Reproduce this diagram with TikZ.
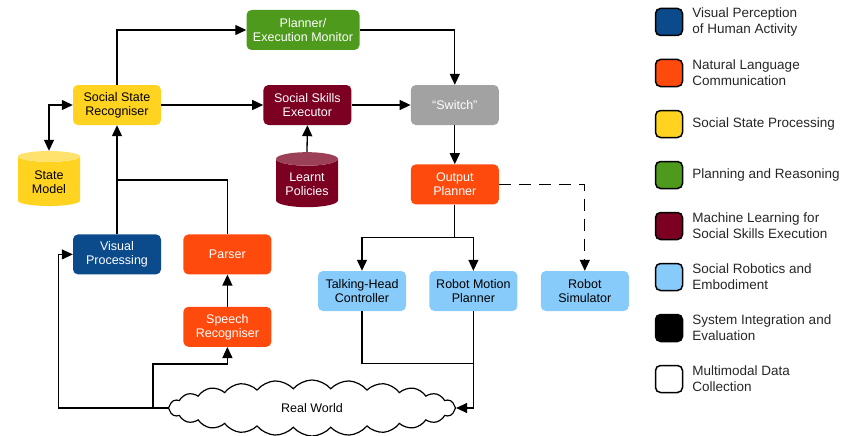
\documentclass[tikz,border=0pt]{standalone}
\usepackage{fontspec}
\setmainfont{Liberation Sans}
\usetikzlibrary{shapes.geometric,shapes.symbols,arrows.meta,positioning}

\definecolor{vpblue}{RGB}{11,74,139}
\definecolor{nlred}{RGB}{255,74,14}
\definecolor{ssyellow}{RGB}{255,211,32}
\definecolor{prgreen}{RGB}{78,154,28}
\definecolor{mlred}{RGB}{123,0,33}
\definecolor{srblue}{RGB}{135,203,250}
\definecolor{swgray}{RGB}{162,162,162}

\begin{document}
\begin{tikzpicture}[x=1pt, y=-1pt, align=center, >={Triangle[length=11pt,width=10pt]}
                   , font=\fontsize{12.5}{14}\selectfont]
    \tikzset{
        box/.style      =   { rectangle
                            , rounded corners=5pt
                            , minimum width=88pt
                            , minimum height=40pt
                            , inner sep=2pt
                            , text=white
        }
        , drum/.style   =   { cylinder
                            , shape border rotate=90
                            , aspect=0.3
                            , minimum width=62pt
                            , minimum height=55pt
                            , cylinder uses custom fill
                            , inner sep=1pt
        }
        , arrow/.style  =   { line width=1.3pt
        }
        , swatch/.style =   { rectangle
                            , rounded corners=5pt
                            , draw=black
                            , line width=1.5pt
                            , minimum size=27pt
        }
        , keytext/.style =  { align=left
                            , inner sep=0pt
                            , text=black!85
                            , font=\fontsize{13.5}{15.7}\selectfont
        }
    }
    \useasboundingbox (0,0) rectangle (854,436);

    \node(ssr)[box, fill=ssyellow, text=black] at (117,105) {Social State\\Recogniser};
    \node(plan)[box, fill=prgreen, minimum width=113pt] at (303,30) {Planner/\\Execution Monitor};
    \node(sse)[box, fill=mlred, right=102pt of ssr] {Social Skills\\Executor};
    \node(switch)[box, fill=swgray, right=59pt of sse] {“Switch”};
    \node(out)[box, fill=nlred, below=39pt of switch] {Output\\Planner};
    \node(sm)[drum, cylinder body fill=ssyellow, cylinder end fill=ssyellow!65!white] at (49,182) {State\\Model};
    \node(lp)[drum, cylinder body fill=mlred, cylinder end fill=mlred!75!white, text=white] at (307,184) {Learnt\\Policies};
    \node(vp)[box, fill=vpblue, below=109pt of ssr] {Visual\\Processing};
    \node(parser)[box, fill=nlred, right=22pt of vp] {Parser};
    \node(sr)[box, fill=nlred, below=32pt of parser] {Speech\\Recogniser};
    \node(thc)[box, fill=srblue, text=black] at (362,291) {Talking-Head\\Controller};
    \node(rmp)[box, fill=srblue, text=black, right=23pt of thc] {Robot Motion\\Planner};
    \node(sim)[box, fill=srblue, text=black, right=23pt of rmp] {Robot\\Simulator};
    \node(world)[cloud, draw, fill=white, line width=1.2pt, cloud puffs=24, cloud puff arc=100
                , cloud ignores aspect, minimum width=287pt, minimum height=56pt] at (312,408) {Real World};
    \coordinate(merge) at (117,180);

    \draw[arrow,->]  (ssr.north) |- (plan.west);
    \draw[arrow,->]  (plan.east) -| (switch.north);
    \draw[arrow,->]  (ssr) -- (sse);
    \draw[arrow,->]  (sse) -- (switch);
    \draw[arrow,->]  (switch) -- (out);
    \draw[arrow,->]  (lp.north) -- (sse.south);
    \draw[arrow,<->] (sm.north) |- (ssr.west);
    \draw[arrow,->]  (vp) -- (ssr);
    \draw[arrow]     (parser.north) |- (merge);
    \draw[arrow,->]  (sr) -- (parser);
    \draw[arrow,->]  (world.west) -| ([xshift=-14pt]vp.west) -- (vp.west);
    \draw[arrow,->]  ([xshift=-15pt]world.west) |- ([yshift=-17pt]sr.south) -- (sr.south);
    \draw[arrow,->]  (out.south) -- ++(0,33) -| (thc.north);
    \draw[arrow,->]  (out.south) -- ++(0,33) -| (rmp.north);
    \draw[arrow,->, dash pattern=on 12pt off 8pt] (out.east) -| (sim.north);
    \draw[arrow]     (thc.south) |- ([yshift=-52pt]rmp.south);
    \draw[arrow,->]  (rmp.south) |- (world.east);

    % legend
    \begin{scope}[node distance=22.5pt]
    \node(key0)[swatch, fill=vpblue] at (669,22) {};
    \node(key1)[swatch, fill=nlred, below=of key0] {};
    \node(key2)[swatch, fill=ssyellow, below=of key1] {};
    \node(key3)[swatch, fill=prgreen, below=of key2] {};
    \node(key4)[swatch, fill=mlred, below=of key3] {};
    \node(key5)[swatch, fill=srblue, below=of key4] {};
    \node(key6)[swatch, fill=black, below=of key5] {};
    \node(key7)[swatch, fill=white, below=of key6] {};
    \node(label0)[keytext, right=9pt of key0] {Visual Perception\\of Human Activity};
    \node(label1)[keytext, right=9pt of key1] {Natural Language\\Communication};
    \node(label2)[keytext, right=9pt of key2] {Social State Processing};
    \node(label3)[keytext, right=9pt of key3] {Planning and Reasoning};
    \node(label4)[keytext, right=9pt of key4] {Machine Learning for\\Social Skills Execution};
    \node(label5)[keytext, right=9pt of key5] {Social Robotics and\\Embodiment};
    \node(label6)[keytext, right=9pt of key6] {System Integration and\\Evaluation};
    \node(label7)[keytext, right=9pt of key7] {Multimodal Data\\Collection};
    \end{scope}
\end{tikzpicture}
\end{document}
